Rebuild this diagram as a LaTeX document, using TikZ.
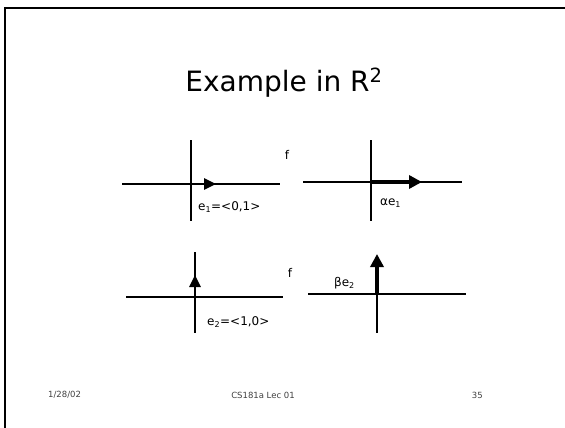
\documentclass[tikz,border=0pt]{standalone}
\usepackage{fontspec}
\setmainfont{DejaVu Sans}
\usetikzlibrary{arrows.meta}
\begin{document}
\begin{tikzpicture}[x=1pt,y=-1pt,
  axis/.style={line width=1.3pt},
  vec/.style={line width=2.8pt,-{Triangle[length=12pt,width=11pt]}},
  bigvec/.style={line width=4pt,-{Triangle[length=13pt,width=13pt]}},
  lbl/.style={font=\fontsize{12}{14}\selectfont, inner sep=0pt},
  foot/.style={font=\fontsize{8.5}{10}\selectfont, text=black!75, inner sep=0pt},
  frame/.style={line width=2pt}]
\useasboundingbox (0,0) rectangle (565,428);
% slide frame
\coordinate (fl) at (5,428);
\coordinate (fc) at (5,8.5);
\coordinate (fr) at (565,8.5);
\draw[frame] (fl) -- (fc) -- (fr);
% title
\node[font=\fontsize{28}{32}\selectfont, inner sep=0pt] (title) at (284,83) {Example in R\textsuperscript{2}};
% top left
\coordinate (a1l) at (122,184); \coordinate (a1r) at (280,184);
\coordinate (a1t) at (191,140); \coordinate (a1b) at (191,221);
\coordinate (o1) at (191,184); \coordinate (t1) at (216,184);
\draw[axis] (a1l) -- (a1r);
\draw[axis] (a1t) -- (a1b);
\draw[vec] (o1) -- (t1);
\node[lbl, anchor=west] (e1) at (198,207) {e\textsubscript{1}=<0,1>};
\node[lbl] (f1) at (287,155) {f};
% top right
\coordinate (a2l) at (303,182); \coordinate (a2r) at (462,182);
\coordinate (a2t) at (371,140); \coordinate (a2b) at (371,221);
\coordinate (o2) at (371,182); \coordinate (t2) at (422,182);
\draw[axis] (a2l) -- (a2r);
\draw[axis] (a2t) -- (a2b);
\draw[bigvec] (o2) -- (t2);
\node[lbl, anchor=west] (ae1) at (380,203) {αe\textsubscript{1}};
% bottom left
\coordinate (a3l) at (126,297); \coordinate (a3r) at (283,297);
\coordinate (a3t) at (195,252); \coordinate (a3b) at (195,333);
\coordinate (o3) at (195,297); \coordinate (t3) at (195,275);
\draw[axis] (a3l) -- (a3r);
\draw[axis] (a3t) -- (a3b);
\draw[vec] (o3) -- (t3);
\node[lbl, anchor=west] (e2) at (207,322) {e\textsubscript{2}=<1,0>};
\node[lbl] (f2) at (290,273) {f};
% bottom right
\coordinate (a4l) at (308,294); \coordinate (a4r) at (466,294);
\coordinate (a4t) at (377,256); \coordinate (a4b) at (377,333);
\coordinate (o4) at (377,294); \coordinate (t4) at (377,254);
\draw[axis] (a4l) -- (a4r);
\draw[axis] (a4t) -- (a4b);
\draw[bigvec] (o4) -- (t4);
\node[lbl, anchor=west] (be2) at (334,283) {βe\textsubscript{2}};
% footer
\node[foot, anchor=west] (date) at (48,395) {1/28/02};
\node[foot] (course) at (263,395) {CS181a Lec 01};
\node[foot, anchor=east] (page) at (483,395) {35};
\end{tikzpicture}
\end{document}
